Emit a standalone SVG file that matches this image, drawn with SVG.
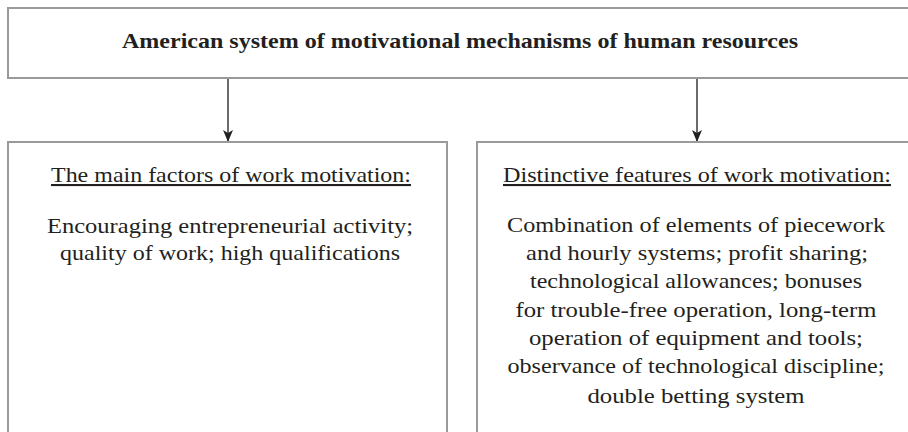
<svg xmlns="http://www.w3.org/2000/svg" width="908" height="432" viewBox="0 0 908 432">
  <style>
    .box { fill: #ffffff; stroke: #9a9a9c; stroke-width: 2; }
    .txt { font-family: "Liberation Serif", "DejaVu Serif", serif; font-size: 21px; fill: #231f20; text-anchor: middle; }
    .title { font-weight: bold; }
    .head { text-decoration: underline; }
    .conn { stroke: #3a3a3a; stroke-width: 1.5; fill: none; }
  </style>
  <defs>
    <marker id="arrowv" viewBox="0 0 12 10" refX="12" refY="5" markerWidth="12" markerHeight="10" markerUnits="userSpaceOnUse" orient="auto">
      <path d="M0,0 L3,5 L0,10 L12,5 Z" fill="#222222"/>
    </marker>
  </defs>
  <rect width="908" height="432" fill="#ffffff"/>

  <g id="node-top">
    <rect class="box" x="8" y="8" width="912" height="70"/>
    <text class="txt title" x="460" y="48" textLength="676" lengthAdjust="spacingAndGlyphs">American system of motivational mechanisms of human resources</text>
  </g>

  <g id="connectors">
    <line class="conn" x1="228" y1="79" x2="228" y2="142" marker-end="url(#arrowv)"/>
    <line class="conn" x1="697" y1="79" x2="697" y2="142" marker-end="url(#arrowv)"/>
  </g>

  <g id="node-factors">
    <rect class="box" x="8" y="142" width="439" height="300"/>
    <text class="txt head" x="231" y="182" textLength="360" lengthAdjust="spacingAndGlyphs">The main factors of work motivation:</text>
    <text class="txt" x="230" y="233" textLength="366" lengthAdjust="spacingAndGlyphs">Encouraging entrepreneurial activity;</text>
    <text class="txt" x="230" y="260" textLength="340" lengthAdjust="spacingAndGlyphs">quality of work; high qualifications</text>
  </g>

  <g id="node-features">
    <rect class="box" x="477" y="142" width="440" height="300"/>
    <text class="txt head" x="697" y="182" textLength="388" lengthAdjust="spacingAndGlyphs">Distinctive features of work motivation:</text>
    <text class="txt" x="696" y="232" textLength="378" lengthAdjust="spacingAndGlyphs">Combination of elements of piecework</text>
    <text class="txt" x="697" y="260" textLength="342" lengthAdjust="spacingAndGlyphs">and hourly systems; profit sharing;</text>
    <text class="txt" x="696" y="288" textLength="332" lengthAdjust="spacingAndGlyphs">technological allowances; bonuses</text>
    <text class="txt" x="696" y="317" textLength="361" lengthAdjust="spacingAndGlyphs">for trouble-free operation, long-term</text>
    <text class="txt" x="696" y="345" textLength="334" lengthAdjust="spacingAndGlyphs">operation of equipment and tools;</text>
    <text class="txt" x="696" y="373" textLength="377" lengthAdjust="spacingAndGlyphs">observance of technological discipline;</text>
    <text class="txt" x="696" y="403" textLength="217" lengthAdjust="spacingAndGlyphs">double betting system</text>
  </g>
</svg>
